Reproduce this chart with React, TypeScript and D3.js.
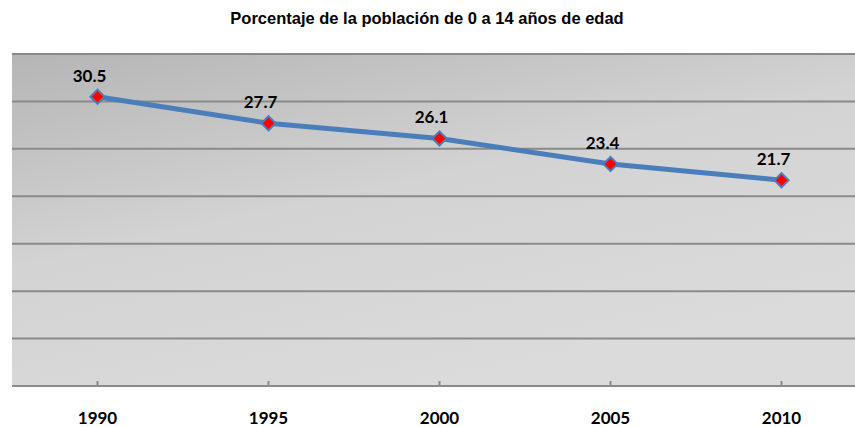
import React, { useEffect, useRef } from "react";
import * as d3 from "d3";

const title = "Porcentaje de la población de 0 a 14 años de edad";
const years = ["1990", "1995", "2000", "2005", "2010"];
const values = [30.5, 27.7, 26.1, 23.4, 21.7];
const yTicks = [0, 5, 10, 15, 20, 25, 30, 35];

const W = 855;
const H = 427;

export default function App() {
  const ref = useRef<SVGSVGElement | null>(null);

  useEffect(() => {
    document.body.style.margin = "0";
    const svg = d3.select(ref.current);
    svg.selectAll("*").remove();

    const left = 12;
    const top = 54;
    const bottom = 386;
    const step = 171;

    const x = d3
      .scaleBand<string>()
      .domain(years)
      .range([left, left + step * years.length])
      .paddingInner(0)
      .paddingOuter(0);
    const cx = (d: string) => (x(d) as number) + x.bandwidth() / 2;
    const y = d3.scaleLinear().domain([0, 35]).range([bottom, top]);

    const defs = svg.append("defs");
    const grad = defs
      .append("linearGradient")
      .attr("id", "bg")
      .attr("x1", 0)
      .attr("y1", 0)
      .attr("x2", 0.55)
      .attr("y2", 1);
    grad.append("stop").attr("offset", 0).attr("stop-color", "#b5b5b5");
    grad.append("stop").attr("offset", 0.5).attr("stop-color", "#d3d3d3");
    grad.append("stop").attr("offset", 1).attr("stop-color", "#dbdbdb");

    svg
      .append("rect")
      .attr("x", left)
      .attr("y", top)
      .attr("width", W - left)
      .attr("height", bottom - top)
      .attr("fill", "url(#bg)");

    // gridlines
    svg
      .append("g")
      .selectAll("line")
      .data(yTicks)
      .join("line")
      .attr("x1", left)
      .attr("x2", W)
      .attr("y1", (d) => y(d))
      .attr("y2", (d) => y(d))
      .attr("stroke", "#8a8a8a")
      .attr("stroke-width", 2);

    // ticks
    svg
      .append("g")
      .selectAll("line")
      .data(years)
      .join("line")
      .attr("x1", (d) => cx(d))
      .attr("x2", (d) => cx(d))
      .attr("y1", bottom)
      .attr("y2", bottom - 5)
      .attr("stroke", "#8a8a8a")
      .attr("stroke-width", 2);

    // x labels
    svg
      .append("g")
      .selectAll("text")
      .data(years)
      .join("text")
      .attr("x", (d) => cx(d))
      .attr("y", 424)
      .attr("text-anchor", "middle")
      .attr("font-family", "Lato, 'Open Sans', sans-serif")
      .attr("font-weight", "bold")
      .attr("font-size", 17)
      .attr("fill", "#000")
      .text((d) => d);

    const pts = years.map((yr, i) => ({ yr, v: values[i] }));

    const line = d3
      .line<{ yr: string; v: number }>()
      .x((d) => cx(d.yr))
      .y((d) => y(d.v));

    svg
      .append("path")
      .datum(pts)
      .attr("d", line)
      .attr("fill", "none")
      .attr("stroke", "#4a7ebb")
      .attr("stroke-width", 5)
      .attr("stroke-linejoin", "round");

    const sym = d3.symbol().type(d3.symbolSquare).size(100);
    svg
      .append("g")
      .selectAll("path")
      .data(pts)
      .join("path")
      .attr("d", sym() as string)
      .attr(
        "transform",
        (d) => `translate(${cx(d.yr)},${y(d.v)}) rotate(45)`
      )
      .attr("fill", "#ff0000")
      .attr("stroke", "#4a7ebb")
      .attr("stroke-width", 2);

    svg
      .append("g")
      .selectAll("text")
      .data(pts)
      .join("text")
      .attr("x", (d) => cx(d.yr) - 8)
      .attr("y", (d) => y(d.v) - 15)
      .attr("text-anchor", "middle")
      .attr("font-family", "Lato, 'Open Sans', sans-serif")
      .attr("font-weight", "bold")
      .attr("font-size", 17)
      .attr("fill", "#000")
      .text((d) => d.v.toFixed(1));

    svg
      .append("text")
      .attr("x", 427)
      .attr("y", 24)
      .attr("text-anchor", "middle")
      .attr("font-family", "'Liberation Sans', Arial, sans-serif")
      .attr("font-weight", "bold")
      .attr("font-size", 16.5)
      .attr("fill", "#000")
      .text(title);
  }, []);

  return (
    <svg
      ref={ref}
      width={W}
      height={H}
      style={{ position: "absolute", left: 0, top: 0, background: "#fff" }}
    />
  );
}
